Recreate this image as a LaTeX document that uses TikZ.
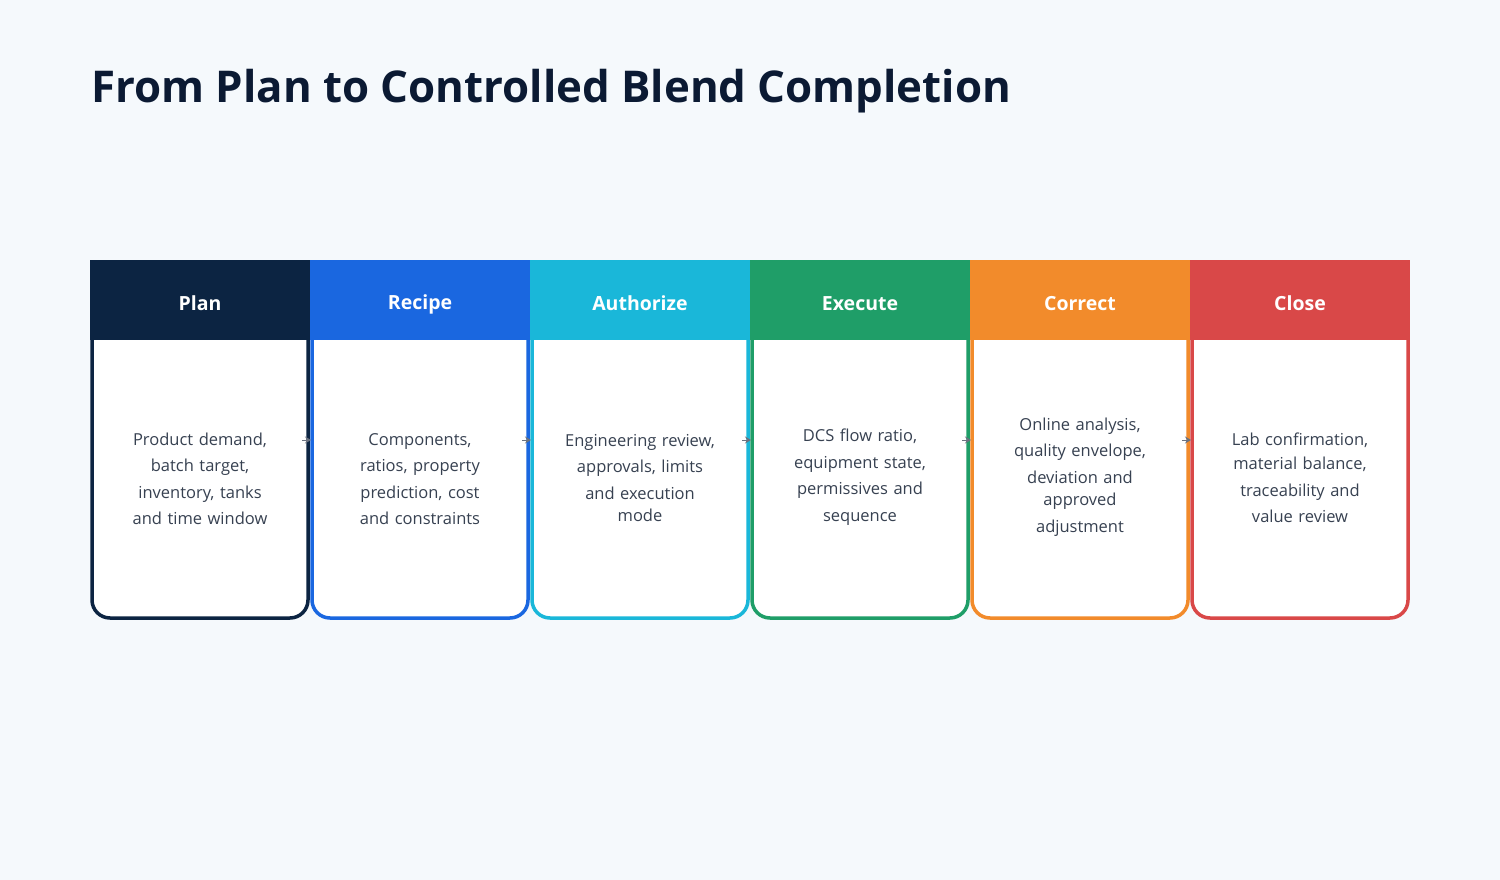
\documentclass[tikz,border=0pt]{standalone}
\usepackage{fontspec}
\setmainfont{Open Sans}
\usetikzlibrary{arrows.meta}
\definecolor{bgc}{HTML}{F5F9FC}
\definecolor{titlec}{HTML}{0B1A33}
\definecolor{bodyc}{HTML}{374151}
\definecolor{cA}{HTML}{0C2442}
\definecolor{cB}{HTML}{1A67E0}
\definecolor{cC}{HTML}{1AB7D9}
\definecolor{cD}{HTML}{1F9E68}
\definecolor{cE}{HTML}{F28B2B}
\definecolor{cF}{HTML}{D94848}
\definecolor{arrc}{HTML}{6B7280}
\tikzset{
  card/.style={draw=#1, fill=white, line width=3.5pt, rounded corners=18pt,
    minimum width=216pt, minimum height=356pt, inner sep=0pt, outer sep=0pt, anchor=north west},
  headbox/.style={fill=#1, draw=none, minimum width=220pt, minimum height=80pt,
    inner sep=0pt, outer sep=0pt, anchor=north west},
  headtxt/.style={text=white, font=\bfseries\fontsize{19.5}{22}\selectfont, anchor=base},
  bodytxt/.style={text=bodyc, align=center, font=\fontsize{16.5}{26.5}\selectfont,
    text width=200pt, anchor=center},
  conn/.style={draw=arrc, line width=1pt, -{Stealth[length=6pt,width=7pt]}}
}
\begin{document}
\begin{tikzpicture}[x=1pt,y=-1pt]
\fill[bgc] (0,0) rectangle (1500,880);
\useasboundingbox (0,0) rectangle (1500,880);
\node[anchor=base west, inner sep=0pt, text=titlec, font=\bfseries\fontsize{43.8}{50}\selectfont] (title) at (91,103) {From Plan to Controlled Blend Completion};
% cards
\node[card=cA] (k1) at (92,262) {};
\node[card=cB] (k2) at (312,262) {};
\node[card=cC] (k3) at (532,262) {};
\node[card=cD] (k4) at (752,262) {};
\node[card=cE] (k5) at (972,262) {};
\node[card=cF] (k6) at (1192,262) {};
% connectors: small arrowheads at the joins
\draw[conn] ([xshift=-6pt]k1.east) -- ([xshift=-1pt]k2.west);
\draw[conn] ([xshift=-6pt]k2.east) -- ([xshift=-1pt]k3.west);
\draw[conn] ([xshift=-6pt]k3.east) -- ([xshift=-1pt]k4.west);
\draw[conn] ([xshift=-6pt]k4.east) -- ([xshift=-1pt]k5.west);
\draw[conn] ([xshift=-6pt]k5.east) -- ([xshift=-1pt]k6.west);
% headers
\node[headbox=cA] (h1) at (90,260) {};
\node[headbox=cB] (h2) at (310,260) {};
\node[headbox=cC] (h3) at (530,260) {};
\node[headbox=cD] (h4) at (750,260) {};
\node[headbox=cE] (h5) at (970,260) {};
\node[headbox=cF] (h6) at (1190,260) {};
\node[headtxt] (t1) at (200,310) {Plan};
\node[headtxt] (t2) at (420,309) {Recipe};
\node[headtxt] (t3) at (640,310) {Authorize};
\node[headtxt] (t4) at (860,310) {Execute};
\node[headtxt] (t5) at (1080,310) {Correct};
\node[headtxt] (t6) at (1300,310) {Close};
% body texts
\node[bodytxt] (b1) at (200,479) {Product demand,\\batch target,\\inventory, tanks\\and time window};
\node[bodytxt] (b2) at (420,479) {Components,\\ratios, property\\prediction, cost\\and constraints};
\node[bodytxt] (b3) at (640,478) {Engineering review,\\approvals, limits\\and execution\\[-4pt]mode};
\node[bodytxt] (b4) at (860,477) {DCS flow ratio,\\equipment state,\\permissives and\\sequence};
\node[bodytxt] (b5) at (1080,477) {Online analysis,\\quality envelope,\\deviation and\\[-4pt]approved\\adjustment};
\node[bodytxt] (b6) at (1300,478) {Lab confirmation,\\[-2pt]material balance,\\traceability and\\value review};
\end{tikzpicture}
\end{document}
